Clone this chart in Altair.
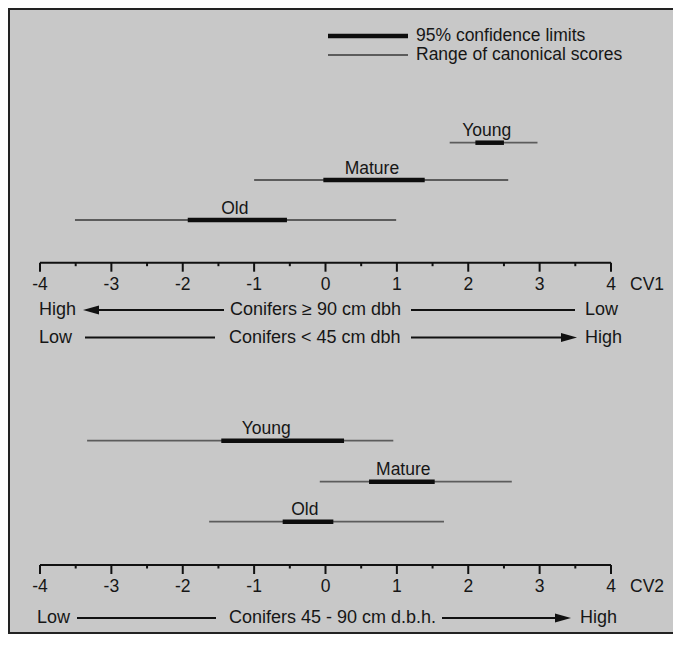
import altair as alt
import pandas as pd

# ---------------- data ----------------
groups = ["Young", "Mature", "Old"]

cv1_range_lo = [1.74, -1.00, -3.51]
cv1_range_hi = [2.97, 2.56, 0.99]
cv1_ci_lo = [2.10, -0.03, -1.93]
cv1_ci_hi = [2.50, 1.39, -0.54]
cv1_label_at = [2.26, 0.65, -1.27]

cv2_range_lo = [-3.34, -0.08, -1.63]
cv2_range_hi = [0.95, 2.61, 1.66]
cv2_ci_lo = [-1.46, 0.61, -0.60]
cv2_ci_hi = [0.26, 1.53, 0.11]
cv2_label_at = [-0.83, 1.09, -0.29]

tick_values = [-4, -3, -2, -1, 0, 1, 2, 3, 4]
tick_labels = ["-4", "-3", "-2", "-1", "0", "1", "2", "3", "4"]
minor_ticks = [-3.5, -2.5, -1.5, -0.5, 0.5, 1.5, 2.5, 3.5]
axis_names = ["CV1", "CV2"]
legend_labels = ["95% confidence limits", "Range of canonical scores"]

# ---------------- layout / style ----------------
W, H = 665, 626
BG = "#c8c8c8"
INK = "#161616"
FONT = "Liberation Sans"
ROW_Y = {"CV1": {"Young": 134.7, "Mature": 172.0, "Old": 212.0},
         "CV2": {"Young": 432.7, "Mature": 473.7, "Old": 513.7}}
LABEL_GAP = 11.5
AXIS_Y = {"CV1": 254.7, "CV2": 557.0}
TICKLABEL_GAP = 22
MAJOR_LEN, MINOR_LEN = 9, 3.5

xscale = alt.Scale(domain=[-4, 4], range=[32, 603], nice=False, zero=False)


def X(f):
    return alt.X(f"{f}:Q", scale=xscale, axis=None)


def Y(f):
    return alt.Y(f"{f}:Q", scale=None, axis=None)


def PX(f):
    return alt.X(f"{f}:Q", scale=None, axis=None)


# bars table
rows = []
for panel, lo, hi, clo, chi, lab in [
    ("CV1", cv1_range_lo, cv1_range_hi, cv1_ci_lo, cv1_ci_hi, cv1_label_at),
    ("CV2", cv2_range_lo, cv2_range_hi, cv2_ci_lo, cv2_ci_hi, cv2_label_at),
]:
    for g, a, b, c, d, e in zip(groups, lo, hi, clo, chi, lab):
        y = ROW_Y[panel][g]
        rows.append(dict(panel=panel, group=g, lo=a, hi=b, ci_lo=c, ci_hi=d,
                         label_at=e, ypx=y, label_y=y - LABEL_GAP))
bars = pd.DataFrame(rows)

# axes tables
axis_df = pd.DataFrame([dict(panel=p, lo=tick_values[0], hi=tick_values[-1],
                             ypx=AXIS_Y[p]) for p in axis_names])
major_df = pd.DataFrame([dict(panel=p, v=v, lab=l, ypx=AXIS_Y[p],
                              ypx2=AXIS_Y[p] + MAJOR_LEN,
                              label_y=AXIS_Y[p] + TICKLABEL_GAP)
                         for p in axis_names
                         for v, l in zip(tick_values, tick_labels)])
minor_df = pd.DataFrame([dict(panel=p, v=v, ypx=AXIS_Y[p],
                              ypx2=AXIS_Y[p] + MINOR_LEN)
                         for p in axis_names for v in minor_ticks])
cv_df = pd.DataFrame([dict(name=p, v=tick_values[-1],
                           label_y=AXIS_Y[p] + TICKLABEL_GAP) for p in axis_names])

# ---------------- layers ----------------
range_layer = alt.Chart(bars).mark_rule(color="#5c5c5c", strokeWidth=1.8).encode(
    x=X("lo"), x2="hi:Q", y=Y("ypx"))
ci_layer = alt.Chart(bars).mark_rule(color="#0d0d0d", strokeWidth=4.5).encode(
    x=X("ci_lo"), x2="ci_hi:Q", y=Y("ypx"))
label_layer = alt.Chart(bars).mark_text(
    font=FONT, fontSize=17.5, color=INK, baseline="middle", align="center").encode(
    x=X("label_at"), y=Y("label_y"), text="group:N")

axis_layer = alt.Chart(axis_df).mark_rule(color="#111", strokeWidth=2).encode(
    x=X("lo"), x2="hi:Q", y=Y("ypx"))
major_layer = alt.Chart(major_df).mark_rule(color="#111", strokeWidth=2).encode(
    x=X("v"), y=Y("ypx"), y2="ypx2:Q")
minor_layer = alt.Chart(minor_df).mark_rule(color="#111", strokeWidth=2).encode(
    x=X("v"), y=Y("ypx"), y2="ypx2:Q")
ticklab_layer = alt.Chart(major_df).mark_text(
    font=FONT, fontSize=17.5, color=INK, baseline="middle", align="center").encode(
    x=X("v"), y=Y("label_y"), text="lab:N")
cv_layer = alt.Chart(cv_df).mark_text(
    font=FONT, fontSize=17.5, color=INK, baseline="middle", align="left", dx=19).encode(
    x=X("v"), y=Y("label_y"), text="name:N")

# direction annotations (decorative, pixel layout)
seg_df = pd.DataFrame([
    dict(x=83, x2=216, y=302), dict(x=403, x2=567, y=302),
    dict(x=77, x2=207, y=329.5), dict(x=403, x2=562, y=329.5),
    dict(x=69, x2=208, y=610), dict(x=434, x2=556, y=610),
])
seg_layer = alt.Chart(seg_df).mark_rule(color="#111", strokeWidth=2).encode(
    x=PX("x"), x2="x2:Q", y=Y("y"))

ann_text_df = pd.DataFrame([
    dict(x=31, y=302, t="High"), dict(x=222, y=302, t="Conifers \u2265 90 cm dbh"),
    dict(x=577, y=302, t="Low"),
    dict(x=31, y=329.5, t="Low"), dict(x=221, y=329.5, t="Conifers < 45 cm dbh"),
    dict(x=577, y=329.5, t="High"),
    dict(x=29, y=610, t="Low"), dict(x=221, y=610, t="Conifers 45 - 90 cm d.b.h."),
    dict(x=572, y=610, t="High"),
])
ann_text_layer = alt.Chart(ann_text_df).mark_text(
    font=FONT, fontSize=18, color=INK, baseline="middle", align="left").encode(
    x=PX("x"), y=Y("y"), text="t:N")

left_head = alt.Chart(pd.DataFrame([dict(x=83, y=302)])).mark_point(
    shape="M1,-0.56L-1,0L1,0.56Z", size=256, filled=True, color="#111", opacity=1).encode(
    x=PX("x"), y=Y("y"))
right_head = alt.Chart(pd.DataFrame([dict(x=561, y=329.5), dict(x=555, y=610)])).mark_point(
    shape="M-1,-0.56L1,0L-1,0.56Z", size=256, filled=True, color="#111", opacity=1).encode(
    x=PX("x"), y=Y("y"))

# legend
leg_df = pd.DataFrame([dict(t=legend_labels[0], y=28, x=320, x2=400, tx=408),
                       dict(t=legend_labels[1], y=47, x=320, x2=400, tx=408)])
leg_thick = alt.Chart(leg_df.iloc[[0]]).mark_rule(color="#0d0d0d", strokeWidth=4.5).encode(
    x=PX("x"), x2="x2:Q", y=Y("y"))
leg_thin = alt.Chart(leg_df.iloc[[1]]).mark_rule(color="#5c5c5c", strokeWidth=1.8).encode(
    x=PX("x"), x2="x2:Q", y=Y("y"))
leg_text = alt.Chart(leg_df).mark_text(
    font=FONT, fontSize=17.5, color=INK, baseline="middle", align="left").encode(
    x=PX("tx"), y=Y("y"), text="t:N")

# frame (left, top, bottom)
frame_df = pd.DataFrame([dict(x=0, x2=W, y=1, y2=1), dict(x=1, x2=1, y=0, y2=H),
                         dict(x=0, x2=W, y=H - 1, y2=H - 1)])
frame_layer = alt.Chart(frame_df).mark_rule(color="#222", strokeWidth=2).encode(
    x=PX("x"), x2="x2:Q", y=Y("y"), y2="y2:Q")

chart = alt.layer(
    frame_layer, range_layer, ci_layer, label_layer,
    axis_layer, major_layer, minor_layer, ticklab_layer, cv_layer,
    seg_layer, left_head, right_head, ann_text_layer,
    leg_thick, leg_thin, leg_text,
).properties(
    width=W, height=H, padding=0, autosize=alt.AutoSizeParams(type="none"),
    background="white",
).configure_view(fill=BG, stroke=None)

chart.save("out.html", embed_options={"renderer": "svg", "actions": False})
